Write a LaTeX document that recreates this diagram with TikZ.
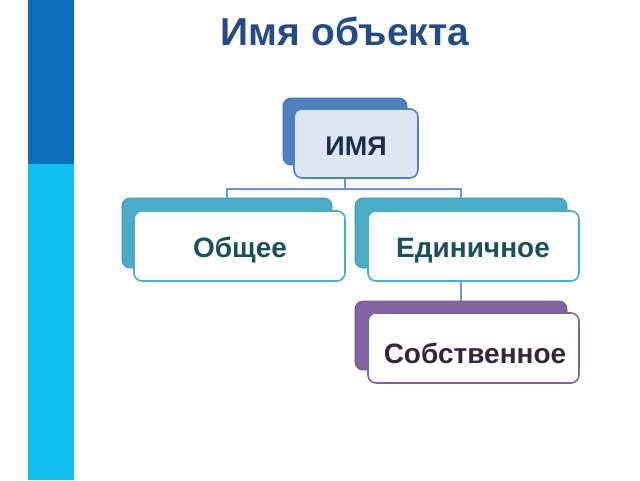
\documentclass[tikz,border=0pt]{standalone}
\usepackage{fontspec}
\setmainfont{Liberation Sans}
\definecolor{bardark}{HTML}{0A6DB8}
\definecolor{barlight}{HTML}{10BFF0}
\definecolor{titlec}{HTML}{254C85}
\definecolor{blueb}{HTML}{4F81BD}
\definecolor{bluefront}{HTML}{DDE6F2}
\definecolor{tealb}{HTML}{4BACC6}
\definecolor{purpb}{HTML}{8064A2}
\definecolor{tealtext}{HTML}{1D4F5C}
\definecolor{navytext}{HTML}{1C2D4A}
\definecolor{purptext}{HTML}{33263F}
\definecolor{linec}{HTML}{6D93C8}
\tikzset{
  backbox/.style={draw=#1!85!black, line width=0.8pt, fill=#1, rounded corners=8pt},
  frontbox/.style={draw=#1, line width=1.6pt, rounded corners=8pt},
  lbl/.style={font=\bfseries\fontsize{28}{32}\selectfont, inner sep=0pt, anchor=base},
  conn/.style={draw=linec, line width=1.1pt}
}
\begin{document}
\begin{tikzpicture}[x=1pt,y=-1pt]
\useasboundingbox (0,0) rectangle (640,480);
\fill[white] (0,0) rectangle (640,480);
% side bar
\fill[bardark] (28,0) rectangle (74,164);
\fill[barlight] (28,164) rectangle (74,480);
% title
\node[font=\bfseries\fontsize{39}{44}\selectfont, text=titlec, inner sep=0pt, anchor=base] (title) at (345,45) {Имя объекта};
% back boxes
\path[backbox=blueb] (283,98) rectangle (407,165);
\node[coordinate] (topb) at (345,165) {};
\path[backbox=tealb] (122,198) rectangle (332,268);
\node[coordinate] (leftt) at (227,198) {};
\path[backbox=tealb] (355,198) rectangle (567,268);
\node[coordinate] (rightt) at (461,198) {};
\node[coordinate] (rightb) at (461,268) {};
\path[backbox=purpb] (355,301) rectangle (567,370);
\node[coordinate] (ownt) at (461,301) {};
% connectors
\coordinate (hl) at (227,189);
\coordinate (hr) at (461,189);
\coordinate (hm) at (345,189);
\draw[conn] (topb) -- (hm);
\draw[conn] (leftt) -- (hl) -- (hr) -- (rightt);
\draw[conn] (rightb) -- (ownt);
% front boxes
\path[frontbox=blueb, fill=bluefront] (294,109) rectangle (418,178);
\path[frontbox=tealb, fill=white] (134,211) rectangle (345,281);
\path[frontbox=tealb, fill=white] (368,211) rectangle (579,281);
\path[frontbox=purpb, fill=white] (368,313) rectangle (579,383);
% labels
\node[lbl, font=\bfseries\fontsize{27}{30}\selectfont, text=navytext] (name) at (356,155) {ИМЯ};
\node[lbl, text=tealtext] (common) at (240,257) {Общее};
\node[lbl, text=tealtext] (single) at (473,257) {Единичное};
\node[lbl, text=purptext] (own) at (475,363) {Собственное};
\end{tikzpicture}
\end{document}
